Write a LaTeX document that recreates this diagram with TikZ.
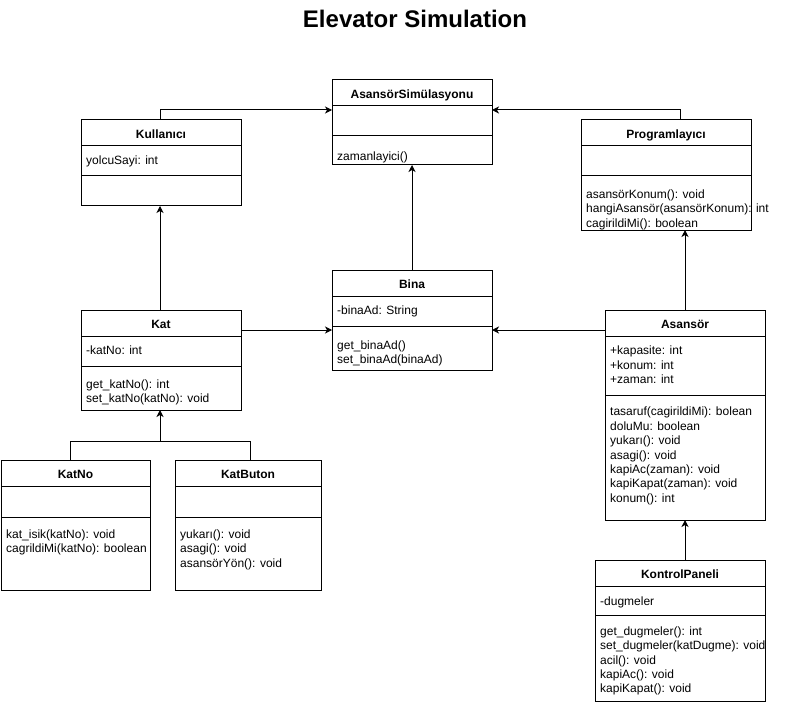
\documentclass[tikz,border=0pt]{standalone}
\usepackage{fontspec}
\setmainfont{Liberation Sans}
\usetikzlibrary{arrows.meta,calc}
\tikzset{
  clsbox/.style={draw=black, line width=1pt, anchor=north west, inner sep=0pt, outer sep=0pt},
  clsline/.style={line width=1pt},
  clstitle/.style={anchor=base, inner sep=0pt, font=\fontsize{12}{14.4}\selectfont\bfseries},
  txt/.style={anchor=north west, align=left, inner sep=0pt, font=\fontsize{12}{14.4}\selectfont},
  arr/.style={line width=1pt, -{Stealth[length=7pt,width=7pt,inset=2pt]}},
  link/.style={line width=1pt},
  titlestyle/.style={anchor=base, inner sep=0pt, font=\fontsize{24}{28}\selectfont\bfseries},
}
% #1 name, #2 x0, #3 y0, #4 width, #5 header h, #6 attr h, #7 total h, #8 title
\newcommand{\umlcls}[8]{%
  \node[clsbox, minimum width=#4pt, minimum height=#7pt] (#1) at (#2,#3) {};
  \draw[clsline] ([yshift=-#5pt]#1.north west) -- ([yshift=-#5pt]#1.north east);
  \draw[clsline] ([yshift=-#5pt-#6pt]#1.north west) -- ([yshift=-#5pt-#6pt]#1.north east);
  \node[clstitle] (#1-t) at ([yshift=-18.5pt]#1.north) {#8};
}
\begin{document}
\begin{tikzpicture}[x=1pt,y=-1pt]
\useasboundingbox (0,0) rectangle (791,703);

\node[titlestyle] (title) at (415,28) {Elevator Simulation};

% classes
\umlcls{as}{332}{80}{160}{26}{30}{85}{AsansörSimülasyonu}
\node[txt] (as-m) at (337,150) {\strut zamanlayici()};

\umlcls{kul}{81}{120}{160}{26}{30}{86}{Kullanıcı}
\node[txt] (kul-a) at (86,154) {\strut yolcuSayi: int};

\umlcls{prog}{581}{120}{170}{26}{30}{110}{Programlayıcı}
\node[txt] (prog-m) at (586,188) {\strut asansörKonum(): void\\hangiAsansör(asansörKonum): int\\cagirildiMi(): boolean};

\umlcls{bina}{332}{270}{160}{26}{30}{100}{Bina}
\node[txt] (bina-a) at (337,304.6) {\strut -binaAd: String};
\node[txt] (bina-m) at (337,339) {\strut get\_binaAd()\\set\_binaAd(binaAd)};

\umlcls{kat}{81}{310}{160}{26}{30}{100}{Kat}
\node[txt] (kat-a) at (86,344) {\strut -katNo: int};
\node[txt] (kat-m) at (86,378) {\strut get\_katNo(): int\\set\_katNo(katNo): void};

\umlcls{asa}{605}{310}{160}{26}{59}{210}{Asansör}
\node[txt] (asa-a) at (610,344.6) {\strut +kapasite: int\\+konum: int\\+zaman: int};
\node[txt] (asa-m) at (610,405.6) {\strut tasaruf(cagirildiMi): bolean\\doluMu: boolean\\yukarı(): void\\asagi(): void\\kapiAc(zaman): void\\kapiKapat(zaman): void\\konum(): int};

\umlcls{katno}{1}{460}{149}{26}{31}{130}{KatNo}
\node[txt] (katno-m) at (6,528) {\strut kat\_isik(katNo): void\\cagrildiMi(katNo): boolean};

\umlcls{katbut}{175}{460}{146}{26}{31}{130}{KatButon}
\node[txt] (katbut-m) at (180,528) {\strut yukarı(): void\\asagi(): void\\asansörYön(): void};

\umlcls{kp}{595}{560}{170}{26}{29}{141}{KontrolPaneli}
\node[txt] (kp-a) at (600,595.6) {\strut -dugmeler};
\node[txt] (kp-m) at (600,625) {\strut get\_dugmeler(): int\\set\_dugmeler(katDugme): void\\acil(): void\\kapiAc(): void\\kapiKapat(): void};

% connectors
\coordinate (ka) at ([yshift=-30pt]as.north west);
\coordinate (pa) at ([yshift=-30pt]as.north east);
\draw[arr] ([xshift=-1pt]kul.north) |- (ka);
\draw[arr] ([xshift=14pt]prog.north) |- (pa);
\draw[arr] (bina.north) -- (as.south);
\draw[arr] ([xshift=-1pt]kat.north) -- ([xshift=-1pt]kul.south);
\coordinate (kb) at ([yshift=-20pt]kat.north east);
\draw[arr] (kb) -- (kb -| bina.west);
\coordinate (ab) at ([yshift=-20pt]asa.north west);
\draw[arr] (ab) -- (ab -| bina.east);
\draw[arr] (asa.north) -- (asa.north |- prog.south);
\draw[arr] (kp.north -| asa.south) -- (asa.south);
\coordinate (kj) at ([yshift=-31pt]kat.south);
\coordinate (kjn) at ([xshift=-1pt]kat.south);
\draw[link] ([xshift=-5.5pt]katno.north) |- (kjn |- kj);
\draw[link] ([xshift=2pt]katbut.north) |- (kjn |- kj);
\draw[arr] (kjn |- kj) -- (kjn);
\end{tikzpicture}
\end{document}
